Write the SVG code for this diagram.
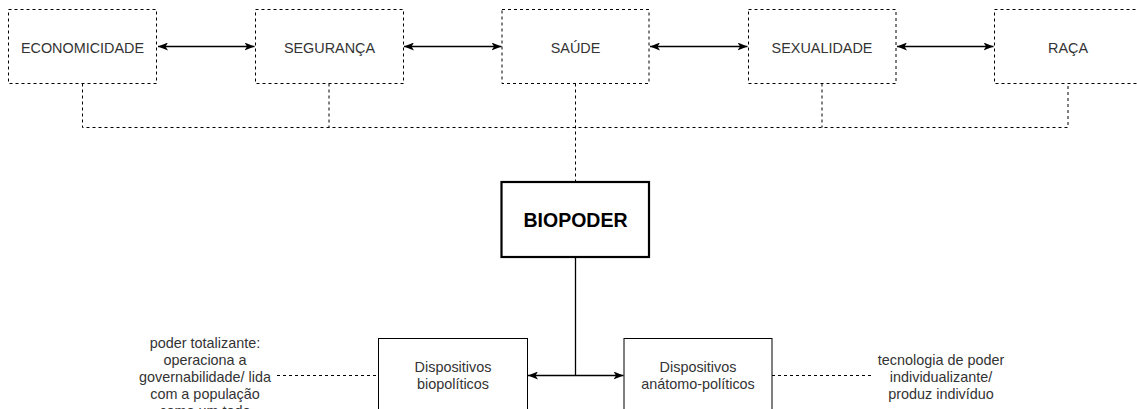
<svg xmlns="http://www.w3.org/2000/svg" width="1137" height="409" viewBox="0 0 1137 409">
<style>
text{font-family:"Liberation Sans",Arial,sans-serif;font-size:14.4px;fill:#333;text-anchor:middle}
.dbox{fill:#fff;stroke:#000;stroke-width:1;stroke-dasharray:3 3}
.box{fill:#fff;stroke:#000;stroke-width:1}
.bold{fill:#fff;stroke:#000;stroke-width:2.2}
.dash{fill:none;stroke:#000;stroke-width:1;stroke-dasharray:3 3}
.solid{fill:none;stroke:#000;stroke-width:1.3}
.arr{marker-start:url(#ah);marker-end:url(#ah)}
</style>
<defs>
<marker id="ah" viewBox="0 0 10 8" refX="10" refY="4" markerWidth="10" markerHeight="8" markerUnits="userSpaceOnUse" orient="auto-start-reverse">
<path d="M0,0 L10,4 L0,8 L2.5,4 z" fill="#000"/>
</marker>
</defs>
<rect width="1137" height="409" fill="#fff"/>
<g id="connectors">
<path class="dash" d="M82.5,83.5 V127.5 H1068 V83.5"/>
<path class="dash" d="M329,83.5 V127.5"/>
<path class="dash" d="M822,83.5 V127.5"/>
<path class="dash" d="M575.5,83.5 V182"/>
<path class="solid arr" d="M158,46.5 H254.5"/>
<path class="solid arr" d="M404,46.5 H501.5"/>
<path class="solid arr" d="M650,46.5 H747.5"/>
<path class="solid arr" d="M897,46.5 H993.5"/>
<path class="solid" d="M575.5,257 V375.5"/>
<path class="solid arr" d="M528,375.5 H623.5"/>
<path class="dash" d="M277,375.5 H378"/>
<path class="dash" d="M772,375.5 H872"/>
</g>
<g id="economicidade"><rect class="dbox" x="8.5" y="9.5" width="148" height="74"/><text x="82.5" y="52.5">ECONOMICIDADE</text></g>
<g id="seguranca"><rect class="dbox" x="255.5" y="9.5" width="148" height="74"/><text x="329.5" y="52.5">SEGURANÇA</text></g>
<g id="saude"><rect class="dbox" x="502" y="9.5" width="147" height="74"/><text x="575.5" y="52.5">SAÚDE</text></g>
<g id="sexualidade"><rect class="dbox" x="748.5" y="9.5" width="147.5" height="74"/><text x="822" y="52.5">SEXUALIDADE</text></g>
<g id="raca"><rect class="dbox" x="994.5" y="9.5" width="148" height="74"/><text x="1068" y="52.5">RAÇA</text></g>
<g id="biopoder"><rect class="bold" x="501.5" y="182" width="147.5" height="75"/><text x="575.5" y="226.5" style="font-size:19.5px;font-weight:bold;fill:#000">BIOPODER</text></g>
<g id="biopoliticos"><rect class="box" x="378.5" y="338.5" width="149" height="75"/><text x="453" y="372">Dispositivos</text><text x="453" y="389">biopolíticos</text></g>
<g id="anatomo"><rect class="box" x="624" y="338.5" width="148" height="75"/><text x="698" y="372">Dispositivos</text><text x="698" y="389">anátomo-políticos</text></g>
<g id="label-left"><text x="205" y="348">poder totalizante:</text><text x="205" y="365">operaciona a</text><text x="205" y="382">governabilidade/ lida</text><text x="205" y="399">com a população</text><text x="205" y="416">como um todo</text></g>
<g id="label-right"><text x="941" y="365">tecnologia de poder</text><text x="941" y="382">individualizante/</text><text x="941" y="399">produz indivíduo</text></g>
</svg>
